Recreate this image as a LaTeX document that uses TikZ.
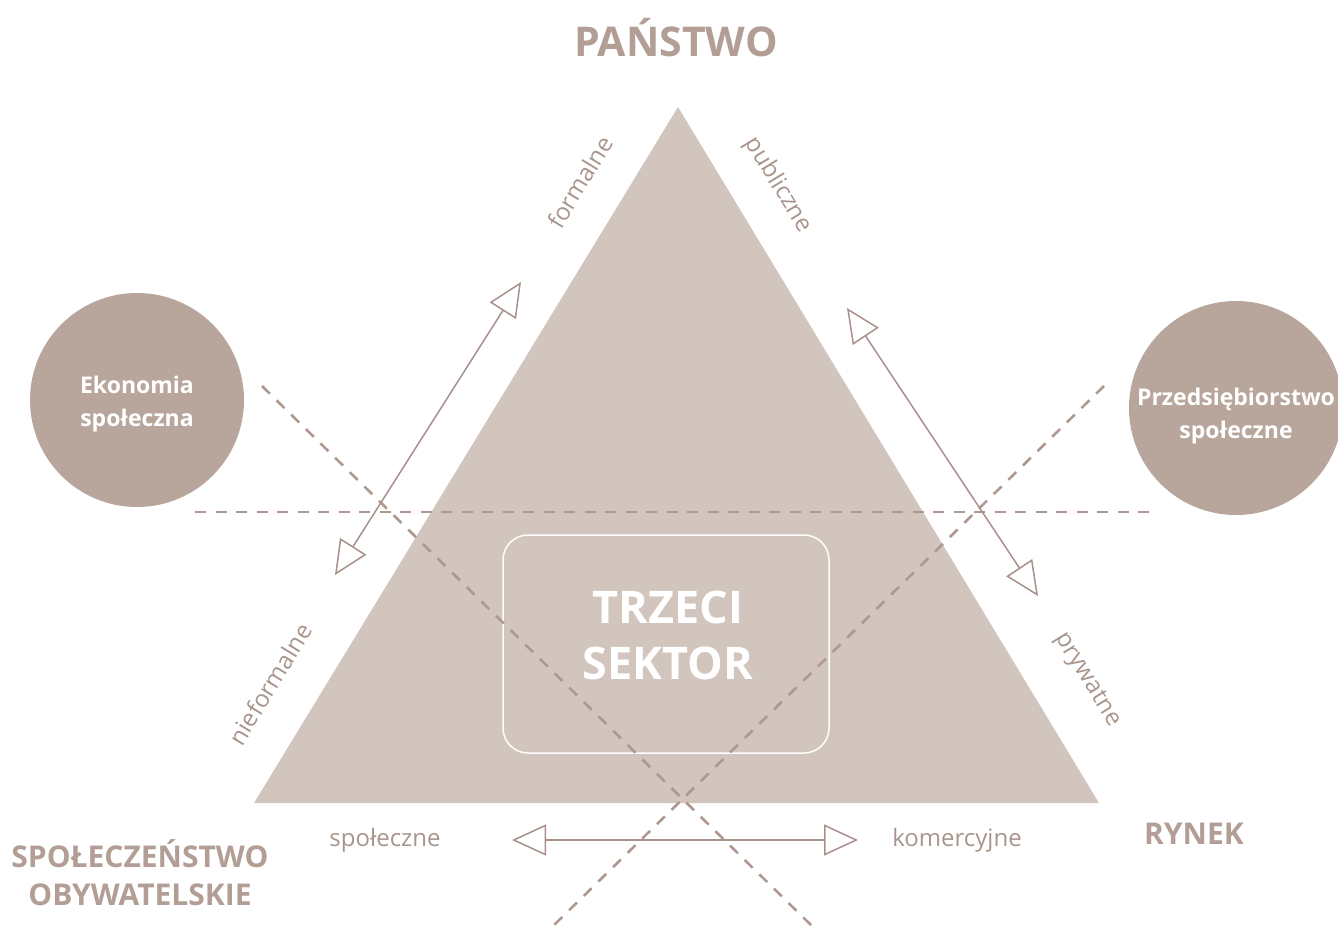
\documentclass[tikz,border=0pt]{standalone}
\usepackage{fontspec}
\setmainfont{Open Sans}
\usetikzlibrary{arrows.meta}
\definecolor{triFill}{HTML}{D2C5BD}
\definecolor{circFill}{HTML}{B8A69C}
\definecolor{titleCol}{HTML}{B29E94}
\definecolor{labelCol}{HTML}{A8958C}
\definecolor{lineCol}{HTML}{A8918A}
\definecolor{dashCol}{HTML}{AE9890}
\begin{document}
\begin{tikzpicture}[x=1pt, y=-1pt,
title/.style={text=titleCol, font=\fontsize{30}{38}\selectfont\bfseries, align=center},
side/.style={text=labelCol, font=\fontsize{24}{28}\selectfont},
blob/.style={circle, fill=circFill, minimum size=214pt, inner sep=0pt},
blobtext/.style={text=white, font=\fontsize{23}{33}\selectfont\bfseries, align=center},
guide/.style={dashCol, line width=2.6pt, dash pattern=on 11pt off 9.5pt},
swing/.style={lineCol, line width=1.5pt,
    {Triangle[open,length=34pt,width=31pt]}-{Triangle[open,length=34pt,width=31pt]}}]
\useasboundingbox (0,0) rectangle (1338,926);
% triangle
\coordinate (top) at (678,107);
\coordinate (bl) at (254,803);
\coordinate (br) at (1099,803);
\fill[triFill] (top) -- (bl) -- (br) -- cycle;
\node[draw=white, line width=1.5pt, rounded corners=25pt, minimum width=326pt,
    minimum height=218pt] (box) at (666,644) {};
\node[text=white, font=\fontsize{45}{56}\selectfont\bfseries, align=center]
    (sektor) at (668,635) {TRZECI\\SEKTOR};
% circles
\node[blob] (eko) at (137,400) {};
\node[blob] (przed) at (1236,408) {};
\node[blobtext] (ekotext) at (137,404) {Ekonomia\\społeczna};
\node[blobtext] (przedtext) at (1236,416) {Przedsiębiorstwo\\społeczne};
% guides
\coordinate (hA) at (195,512);
\coordinate (hB) at (1150,512);
\coordinate (dA) at (262,386);
\coordinate (dB) at (812,926);
\coordinate (eA) at (1104,386);
\coordinate (eB) at (553,926);
\draw[guide] (hA) -- (hB);
\draw[guide] (dA) -- (dB);
\draw[guide] (eA) -- (eB);
% arrows
\coordinate (fA) at (335,575);
\coordinate (fB) at (521,282);
\coordinate (pA) at (847,308);
\coordinate (pB) at (1038,596);
\coordinate (sA) at (512,840);
\coordinate (sB) at (858,840);
\draw[swing] (fA) -- (fB);
\draw[swing] (pA) -- (pB);
\draw[swing] (sA) -- (sB);
% labels
\node[side, rotate=58.6] (formalne) at (580,182) {formalne};
\node[side, rotate=-58.6] (publiczne) at (778,185) {publiczne};
\node[side, rotate=58.6] (nieformalne) at (270,684) {nieformalne};
\node[side, rotate=-58.6] (prywatne) at (1087,680) {prywatne};
\node[side] (spol) at (385,840) {społeczne};
\node[side] (kom) at (957,840) {komercyjne};
\node[title, font=\fontsize{41}{44}\selectfont\bfseries] (panstwo) at (676,38) {PAŃSTWO};
\node[title] (rynek) at (1194,834) {RYNEK};
\node[title] (obyw) at (140,873) {SPOŁECZEŃSTWO\\OBYWATELSKIE};
\end{tikzpicture}
\end{document}
